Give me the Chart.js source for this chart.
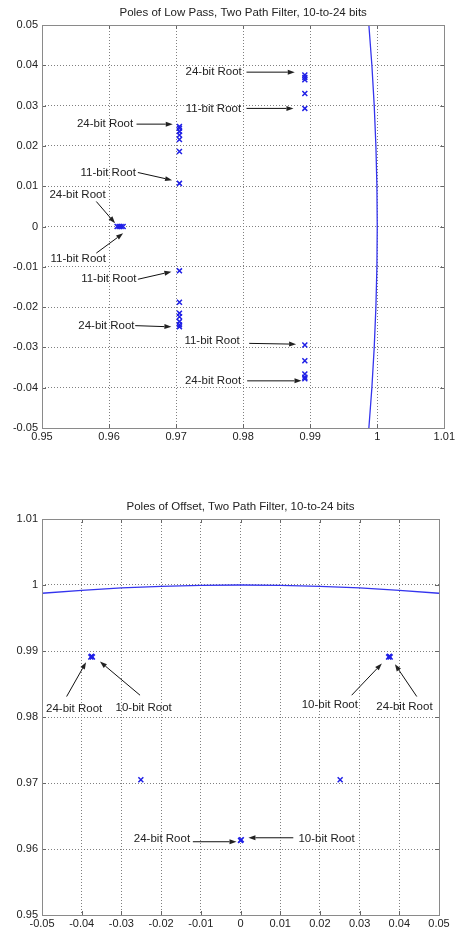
<!DOCTYPE html>
<html>
<head>
<meta charset="utf-8">
<script src="https://cdn.jsdelivr.net/npm/chart.js@4.4.1/dist/chart.umd.min.js"></script>
<style>
  body { margin: 0; background: #fff; }
  #lowPassBox { position: absolute; left: 0; top: 0; }
  #offsetBox { position: absolute; left: 0; top: 494px; }
</style>
</head>
<body>
<div id="lowPassBox"><canvas id="lowPassChart" width="457" height="450"></canvas></div>
<div id="offsetBox"><canvas id="offsetChart" width="457" height="437"></canvas></div>
<script>
// Low pass filter poles, real and imaginary parts
const lowPassRe = [0.9612, 0.9615, 0.9618, 0.9621,
    0.9705, 0.9705, 0.9705, 0.9705, 0.9705, 0.9705, 0.9705,
    0.9705, 0.9705, 0.9705, 0.9705, 0.9705, 0.9705, 0.9705,
    0.9892, 0.9892, 0.9892, 0.9892, 0.9892,
    0.9892, 0.9892, 0.9892, 0.9892, 0.9892];
const lowPassIm = [0, 0, 0, 0,
    0.0107, 0.0186, 0.0216, 0.0227, 0.0236, 0.0244, 0.0248,
    -0.0110, -0.0188, -0.0215, -0.0224, -0.0236, -0.0244, -0.0249,
    0.0293, 0.0330, 0.0364, 0.0370, 0.0376,
    -0.0294, -0.0333, -0.0366, -0.0374, -0.0378];

// unit circle
const lowPassArcIm = [-0.05, -0.04, -0.03, -0.02, -0.01, 0, 0.01, 0.02, 0.03, 0.04, 0.05];
const lowPassArcRe = [0.99875, 0.9992, 0.99955, 0.9998, 0.99995, 1, 0.99995, 0.9998, 0.99955, 0.9992, 0.99875];

// Offset filter poles
const offsetRe = [-0.0377, -0.0375, -0.0373, 0.0373, 0.0375, 0.0377, -0.0251, 0.0251, 0.0000, 0.0002];
const offsetIm = [0.9891, 0.9892, 0.9891, 0.9891, 0.9892, 0.9891, 0.9705, 0.9705, 0.9613, 0.9614];

const offsetArcRe = [-0.05, -0.04, -0.03, -0.02, -0.01, 0, 0.01, 0.02, 0.03, 0.04, 0.05];
const offsetArcIm = [0.99875, 0.9992, 0.99955, 0.9998, 0.99995, 1, 0.99995, 0.9998, 0.99955, 0.9992, 0.99875];

// tick labels
const lowPassXTicks = [0.95, 0.96, 0.97, 0.98, 0.99, 1, 1.01];
const lowPassYTicks = [-0.05, -0.04, -0.03, -0.02, -0.01, 0, 0.01, 0.02, 0.03, 0.04, 0.05];
const offsetXTicks = [-0.05, -0.04, -0.03, -0.02, -0.01, 0, 0.01, 0.02, 0.03, 0.04, 0.05];
const offsetYTicks = [0.95, 0.96, 0.97, 0.98, 0.99, 1, 1.01];

// text labels with arrows (data coordinates)
const lowPassNotes = [
    { text: "24-bit Root", x: 0.9798, y: 0.0383, align: "right", from: [0.9805, 0.0383], to: [0.9877, 0.0383] },
    { text: "11-bit Root", x: 0.9797, y: 0.0293, align: "right", from: [0.9805, 0.0293], to: [0.9875, 0.0293] },
    { text: "24-bit Root", x: 0.9636, y: 0.0256, align: "right", from: [0.9641, 0.0254], to: [0.9695, 0.0254] },
    { text: "11-bit Root", x: 0.9640, y: 0.0134, align: "right", from: [0.9643, 0.0134], to: [0.9694, 0.0115] },
    { text: "24-bit Root", x: 0.9553, y: 0.0078, align: "center", from: [0.9581, 0.0062], to: [0.9609, 0.0008] },
    { text: "11-bit Root", x: 0.9554, y: -0.0081, align: "center", from: [0.9581, -0.0066], to: [0.9621, -0.0017] },
    { text: "11-bit Root", x: 0.9641, y: -0.0131, align: "right", from: [0.9643, -0.0131], to: [0.9693, -0.0112] },
    { text: "24-bit Root", x: 0.9638, y: -0.0246, align: "right", from: [0.9639, -0.0246], to: [0.9693, -0.0249] },
    { text: "11-bit Root", x: 0.9795, y: -0.0283, align: "right", from: [0.9809, -0.0290], to: [0.9879, -0.0292] },
    { text: "24-bit Root", x: 0.9797, y: -0.0383, align: "right", from: [0.9806, -0.0383], to: [0.9887, -0.0383] },
];
const offsetNotes = [
    { text: "24-bit Root", x: -0.0419, y: 0.9813, align: "center", from: [-0.0438, 0.9831], to: [-0.0389, 0.9883] },
    { text: "10-bit Root", x: -0.0244, y: 0.9814, align: "center", from: [-0.0253, 0.9833], to: [-0.0354, 0.9884] },
    { text: "10-bit Root", x: 0.0225, y: 0.9818, align: "center", from: [0.0280, 0.9833], to: [0.0356, 0.9881] },
    { text: "24-bit Root", x: 0.0413, y: 0.9815, align: "center", from: [0.0444, 0.9831], to: [0.0389, 0.9880] },
    { text: "24-bit Root", x: -0.0127, y: 0.9616, align: "right", from: [-0.0120, 0.9611], to: [-0.0010, 0.9611] },
    { text: "10-bit Root", x: 0.0146, y: 0.9615, align: "left", from: [0.0133, 0.9617], to: [0.0020, 0.9617] },
];

const FONT = '"Liberation Sans", Arial, sans-serif';
const TEXT = "#222";
const BLUE = "#1f1fe6";

function fmt(v) {
    return String(Math.round(v * 1000) / 1000);
}

function drawArrow(ctx, x0, y0, x1, y1) {
    const ang = Math.atan2(y1 - y0, x1 - x0);
    const len = 7, half = 2.5;
    const bx = x1 - len * Math.cos(ang), by = y1 - len * Math.sin(ang);
    ctx.beginPath();
    ctx.moveTo(x0, y0);
    ctx.lineTo(bx, by);
    ctx.stroke();
    ctx.beginPath();
    ctx.moveTo(x1, y1);
    ctx.lineTo(bx - half * Math.sin(ang), by + half * Math.cos(ang));
    ctx.lineTo(bx + half * Math.sin(ang), by - half * Math.cos(ang));
    ctx.closePath();
    ctx.fill();
}

// box, inward ticks and arrow labels, matlab style
const matlabFrame = {
    id: "matlabFrame",
    afterDatasetsDraw(chart, args, opts) {
        const ctx = chart.ctx;
        const a = chart.chartArea;
        const xs = chart.scales.x, ys = chart.scales.y;
        ctx.save();
        ctx.lineWidth = 1;
        ctx.strokeStyle = "#666";
        ctx.beginPath();
        xs.ticks.forEach(t => {
            const px = Math.round(xs.getPixelForValue(t.value)) + 0.5;
            ctx.moveTo(px, a.bottom); ctx.lineTo(px, a.bottom - 4);
            ctx.moveTo(px, a.top); ctx.lineTo(px, a.top + 4);
        });
        ys.ticks.forEach(t => {
            const py = Math.round(ys.getPixelForValue(t.value)) + 0.5;
            ctx.moveTo(a.left, py); ctx.lineTo(a.left + 4, py);
            ctx.moveTo(a.right, py); ctx.lineTo(a.right - 4, py);
        });
        ctx.stroke();
        ctx.strokeStyle = "#8a8a8a";
        ctx.strokeRect(Math.round(a.left) + 0.5, Math.round(a.top) + 0.5, Math.round(a.width), Math.round(a.height));

        ctx.font = "11.5px " + FONT;
        ctx.textBaseline = "middle";
        ctx.fillStyle = TEXT;
        ctx.strokeStyle = "#111";
        (opts.notes || []).forEach(n => {
            ctx.textAlign = n.align;
            ctx.fillText(n.text, xs.getPixelForValue(n.x), ys.getPixelForValue(n.y));
            drawArrow(ctx,
                xs.getPixelForValue(n.from[0]), ys.getPixelForValue(n.from[1]),
                xs.getPixelForValue(n.to[0]), ys.getPixelForValue(n.to[1]));
        });
        ctx.restore();
    }
};

function axis(ticks, pos, fitFn) {
    return {
        type: "linear",
        position: pos,
        min: ticks[0],
        max: ticks[ticks.length - 1],
        afterBuildTicks: s => { s.ticks = ticks.map(v => ({ value: v })); },
        afterFit: fitFn,
        grid: { color: "#808080", lineWidth: 1, drawTicks: false },
        border: { display: false, dash: [1, 2] },
        ticks: {
            color: TEXT,
            padding: pos === "left" ? 4 : 2,
            autoSkip: false,
            maxRotation: 0,
            font: { family: FONT, size: 11 },
            callback: v => fmt(v)
        }
    };
}

function makeChart(id, title, poles, arc, xTicks, yTicks, notes, rightPad, xAxisHeight) {
    return new Chart(document.getElementById(id).getContext("2d"), {
        type: "scatter",
        data: {
            datasets: [
                {
                    data: poles,
                    pointStyle: "crossRot",
                    pointRadius: 3.5,
                    borderColor: BLUE,
                    borderWidth: 1.5,
                    showLine: false
                },
                {
                    data: arc,
                    showLine: true,
                    pointRadius: 0,
                    borderColor: "#3434ee",
                    borderWidth: 1.3,
                    tension: 0
                }
            ]
        },
        options: {
            responsive: false,
            animation: false,
            events: [],
            layout: { padding: { left: 0, right: rightPad, top: 0, bottom: 0 } },
            scales: {
                x: axis(xTicks, "bottom", s => { s.height = xAxisHeight; }),
                y: axis(yTicks, "left", s => { s.width = 42; })
            },
            plugins: {
                legend: { display: false },
                tooltip: { enabled: false },
                title: {
                    display: true,
                    fullSize: false,
                    text: title,
                    color: TEXT,
                    font: { family: FONT, size: 11.5, weight: "normal", lineHeight: 1 },
                    padding: { top: 7, bottom: 6.5 }
                },
                matlabFrame: { notes: notes }
            }
        },
        plugins: [matlabFrame]
    });
}

makeChart("lowPassChart", "Poles of Low Pass, Two Path Filter, 10-to-24 bits",
    lowPassRe.map((r, i) => ({ x: r, y: lowPassIm[i] })),
    lowPassArcRe.map((r, i) => ({ x: r, y: lowPassArcIm[i] })),
    lowPassXTicks, lowPassYTicks, lowPassNotes, 12, 22);

makeChart("offsetChart", "Poles of Offset, Two Path Filter, 10-to-24 bits",
    offsetRe.map((r, i) => ({ x: r, y: offsetIm[i] })),
    offsetArcRe.map((r, i) => ({ x: r, y: offsetArcIm[i] })),
    offsetXTicks, offsetYTicks, offsetNotes, 18, 16);
</script>
</body>
</html>
